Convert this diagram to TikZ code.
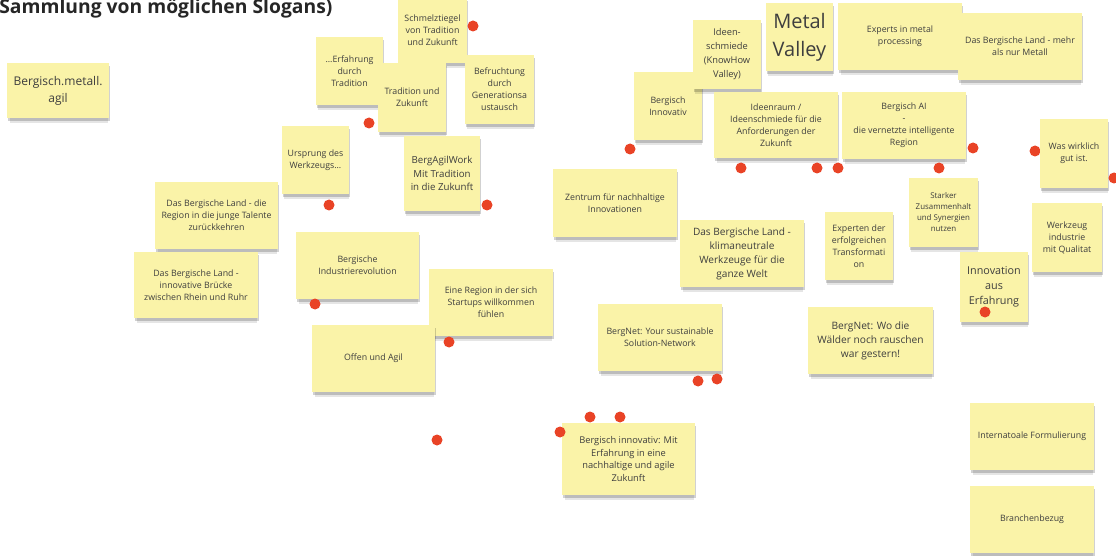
\documentclass[tikz,border=0pt]{standalone}
\usepackage{fontspec}
\setmainfont{Open Sans}
\usepackage{tikz}
\usetikzlibrary{shadows}

\definecolor{NoteYellow}{HTML}{FAF3A8}
\definecolor{NoteText}{HTML}{3E3E3E}
\definecolor{PinRed}{HTML}{E94326}

\tikzset{
	sticky/.style={
		fill=NoteYellow,
		inner sep=1pt,
		align=center,
		text=NoteText,
		font=\fontsize{8.8}{12}\selectfont,
		general shadow={fill=black, opacity=0.10, shadow xshift=1pt, shadow yshift=-6pt, shadow scale=0.97},
		general shadow={fill=black, opacity=0.18, shadow xshift=1pt, shadow yshift=-3pt}
	},
	pin/.style={
		circle,
		fill=PinRed,
		inner sep=0pt,
		minimum size=11pt
	}
}

\begin{document}
\begin{tikzpicture}[x=1pt, y=-1pt]
	\useasboundingbox (0,0) rectangle (1116,556);
	
	\node[
	anchor=base east,
	font=\fontsize{19.3}{21}\selectfont\bfseries,
	text=black!85
	] (Title) at (336,14) {Sammlung von möglichen Slogans)};
	
	% --- pin lying under a note
	
	\node[pin] (Pin-Wirklich) at (1035,151) {};
	
	% --- left group
	
	\node[
	sticky,
	minimum width=102pt,
	minimum height=55pt,
	font=\fontsize{12}{17}\selectfont
	] (Metall-Agil) at (58,90.5) {Bergisch.metall.\\agil};
	
	\node[
	sticky,
	minimum width=67pt,
	minimum height=68pt
	] (Erfahrung-Tradition) at (349.5,71) {...Erfahrung\\durch\\Tradition};
	
	\node[
	sticky,
	minimum width=69pt,
	minimum height=65pt
	] (Schmelztiegel) at (432.5,30.5) {Schmelztiegel\\von Tradition\\und Zukunft};
	
	\node[
	sticky,
	minimum width=68pt,
	minimum height=69pt
	] (Tradition-Zukunft) at (412,97.5) {Tradition und\\Zukunft};
	
	\node[
	sticky,
	minimum width=69pt,
	minimum height=69pt
	] (Befruchtung) at (499.5,89.5) {Befruchtung\\durch\\Generationsa\\ustausch};
	
	\node[
	sticky,
	minimum width=67pt,
	minimum height=68pt
	] (Ursprung) at (315.5,160) {Ursprung des\\Werkzeugs...};
	
	\node[
	sticky,
	minimum width=76pt,
	minimum height=75pt,
	font=\fontsize{9.7}{13.5}\selectfont
	] (BergAgilWork) at (442,173.5) {BergAgilWork\\Mit Tradition\\in die Zukunft};
	
	\node[
	sticky,
	minimum width=123pt,
	minimum height=67pt
	] (Land-Talente) at (216.5,215.5) {Das Bergische Land - die\\Region in die junge Talente\\zurückkehren};
	
	\node[
	sticky,
	minimum width=124pt,
	minimum height=66pt
	] (Land-Bruecke) at (196,285) {Das Bergische Land -\\innovative Brücke\\zwischen Rhein und Ruhr};
	
	\node[
	sticky,
	minimum width=123pt,
	minimum height=67pt
	] (Industrierevolution) at (357.5,265.5) {Bergische\\Industrierevolution};
	
	\node[
	sticky,
	minimum width=124pt,
	minimum height=67pt
	] (Startups) at (491,302.5) {Eine Region in der sich\\Startups willkommen\\fühlen};
	
	\node[
	sticky,
	minimum width=123pt,
	minimum height=67pt
	] (Offen-Agil) at (373.5,358.5) {Offen und Agil};
	
	% --- middle group
	
	\node[
	sticky,
	minimum width=68pt,
	minimum height=68pt
	] (Bergisch-Innovativ) at (668,106) {Bergisch\\Innovativ};
	
	\node[
	sticky,
	minimum width=68pt,
	minimum height=69pt,
	font=\fontsize{9.3}{14}\selectfont
	] (Ideenschmiede) at (727,54.5) {Ideen-\\schmiede\\(KnowHow\\Valley)};
	
	\node[
	sticky,
	minimum width=67pt,
	minimum height=68pt,
	font=\fontsize{20}{28}\selectfont
	] (Metal-Valley) at (799.5,37) {Metal\\Valley};
	
	\node[
	sticky,
	minimum width=124pt,
	minimum height=66pt
	] (Ideenraum) at (776,125) {Ideenraum /\\Ideenschmiede für die\\Anforderungen der\\Zukunft};
	
	\node[
	sticky,
	minimum width=124pt,
	minimum height=68pt
	] (Zentrum) at (615,203) {Zentrum für nachhaltige\\Innovationen};
	
	\node[
	sticky,
	minimum width=124pt,
	minimum height=67pt,
	font=\fontsize{10.1}{14}\selectfont
	] (Land-Klima) at (742,253.5) {Das Bergische Land -\\klimaneutrale\\Werkzeuge für die\\ganze Welt};
	
	\node[
	sticky,
	minimum width=124pt,
	minimum height=67pt
	] (BergNet-Solution) at (660,337.5) {BergNet: Your sustainable\\Solution-Network};
	
	\node[
	sticky,
	minimum width=133pt,
	minimum height=72pt,
	font=\fontsize{9.3}{12.7}\selectfont
	] (Innovativ-Erfahrung) at (628.5,459) {Bergisch innovativ: Mit\\Erfahrung in eine\\nachhaltige und agile\\Zukunft};
	
	% --- right group
	
	\node[
	sticky,
	minimum width=124pt,
	minimum height=67pt
	] (Experts) at (900,36.5) {Experts in metal\\processing};
	
	\node[
	sticky,
	minimum width=124pt,
	minimum height=67pt
	] (Land-Metall) at (1020,46.5) {Das Bergische Land - mehr\\als nur Metall};
	
	\node[
	sticky,
	minimum width=124pt,
	minimum height=67pt
	] (Bergisch-AI) at (904,125.5) {Bergisch AI\\-\\die vernetzte intelligente\\Region};
	
	\node[
	sticky,
	minimum width=68pt,
	minimum height=69pt
	] (Wirklich) at (1074,153.5) {Was wirklich\\gut ist.};
	
	\node[
	sticky,
	minimum width=68pt,
	minimum height=68pt
	] (Experten) at (859,246) {Experten der\\erfolgreichen\\Transformati\\on};
	
	\node[
	sticky,
	minimum width=69pt,
	minimum height=69pt,
	font=\fontsize{7.9}{11}\selectfont
	] (Zusammenhalt) at (943.5,212.5) {Starker\\Zusammenhalt\\und Synergien\\nutzen};
	
	\node[
	sticky,
	minimum width=70pt,
	minimum height=69pt
	] (Werkzeugindustrie) at (1067,237.5) {Werkzeug\\industrie\\mit Qualitat};
	
	\node[
	sticky,
	minimum width=68pt,
	minimum height=70pt,
	font=\fontsize{10.8}{15}\selectfont
	] (Innovation-Erfahrung) at (994,287) {Innovation\\aus\\Erfahrung};
	
	\node[
	sticky,
	minimum width=125pt,
	minimum height=67pt,
	font=\fontsize{10.2}{14}\selectfont
	] (BergNet-Waelder) at (870.5,340.5) {BergNet: Wo die\\Wälder noch rauschen\\war gestern!};
	
	\node[
	sticky,
	minimum width=124pt,
	minimum height=67pt
	] (International) at (1032,436.5) {Internatoale Formulierung};
	
	\node[
	sticky,
	minimum width=124pt,
	minimum height=67pt
	] (Branchenbezug) at (1032,519.5) {Branchenbezug};
	
	% --- pins
	
	\foreach \px/\py [count=\i] in {473/26, 369/123, 329/205, 487/205, 315/304, 449/342,
		437/440, 560/432, 590/417, 620/417, 630/149, 741/168, 817/168, 838/168,
		939/168, 973/148, 1114/178, 985/312, 698/381, 717/379}
	\node[pin] (Pin-\i) at (\px,\py) {};
\end{tikzpicture}
\end{document}
